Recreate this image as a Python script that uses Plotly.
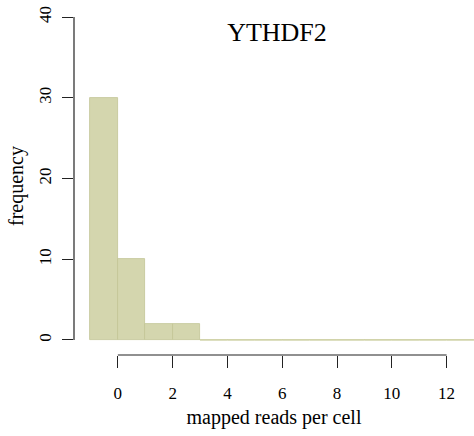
import plotly.graph_objects as go

# Histogram of mapped reads per cell for YTHDF2
bin_left = [-1, 0, 1, 2, 3, 4, 5, 6, 7, 8, 9, 10, 11, 12]
bin_width = 1
counts = [30, 10, 2, 2, 0, 0, 0, 0, 0, 0, 0, 0, 0, 0]
x_ticks = [0, 2, 4, 6, 8, 10, 12]
y_ticks = [0, 10, 20, 30, 40]
title_text = "YTHDF2"
x_label = "mapped reads per cell"
y_label = "frequency"

bar_color = "#d4d6ae"
edge_color = "#c2c495"
font_family = "Liberation Serif, Times New Roman, serif"

centers = [b + bin_width / 2 for b in bin_left]

fig = go.Figure()
fig.add_trace(go.Bar(
    x=centers, y=counts, width=[bin_width] * len(counts),
    marker=dict(color=bar_color, line=dict(color=edge_color, width=0.8)),
    showlegend=False, hoverinfo="x+y",
))

# zero-count bins drawn as a flat line at the baseline
zx, zy = [], []
for b, c in zip(bin_left, counts):
    if c == 0:
        zx += [b, b + bin_width, None]
        zy += [c, c, None]
fig.add_trace(go.Scatter(
    x=zx, y=zy, mode="lines", line=dict(color=bar_color, width=1.5),
    showlegend=False, hoverinfo="skip",
))

axis_color = "#222222"
fig.update_layout(
    width=474, height=436,
    margin=dict(l=74, r=0, t=17, b=81),
    paper_bgcolor="white", plot_bgcolor="white",
    font=dict(family=font_family, size=17, color="black"),
    bargap=0,
    title=dict(text=title_text, x=0.5075, xref="paper", xanchor="center",
               y=1 - 32 / 436, yanchor="middle",
               font=dict(family=font_family, size=26, color="black")),
    xaxis=dict(range=[-1.6, 13.0], tickvals=x_ticks, ticks="outside", ticklen=12,
               tickwidth=1.2, tickcolor=axis_color, showgrid=False, zeroline=False,
               showline=False, ticklabelstandoff=11,
               title=dict(text=x_label, standoff=7)),
    yaxis=dict(range=[-1.86, 40], tickvals=y_ticks, ticks="outside", ticklen=11,
               tickwidth=1.2, tickcolor=axis_color, showgrid=False, zeroline=False,
               showline=False, tickangle=-90, ticklabelstandoff=4,
               title=dict(text=y_label, standoff=7)),
    shapes=[
        dict(type="line", xref="x", yref="paper", x0=x_ticks[0], x1=x_ticks[-1],
             y0=0, y1=0, line=dict(color=axis_color, width=1.2)),
        dict(type="line", xref="paper", yref="y", x0=0, x1=0,
             y0=y_ticks[0], y1=y_ticks[-1], line=dict(color=axis_color, width=1.2)),
    ],
)

fig.write_html("out.html")
